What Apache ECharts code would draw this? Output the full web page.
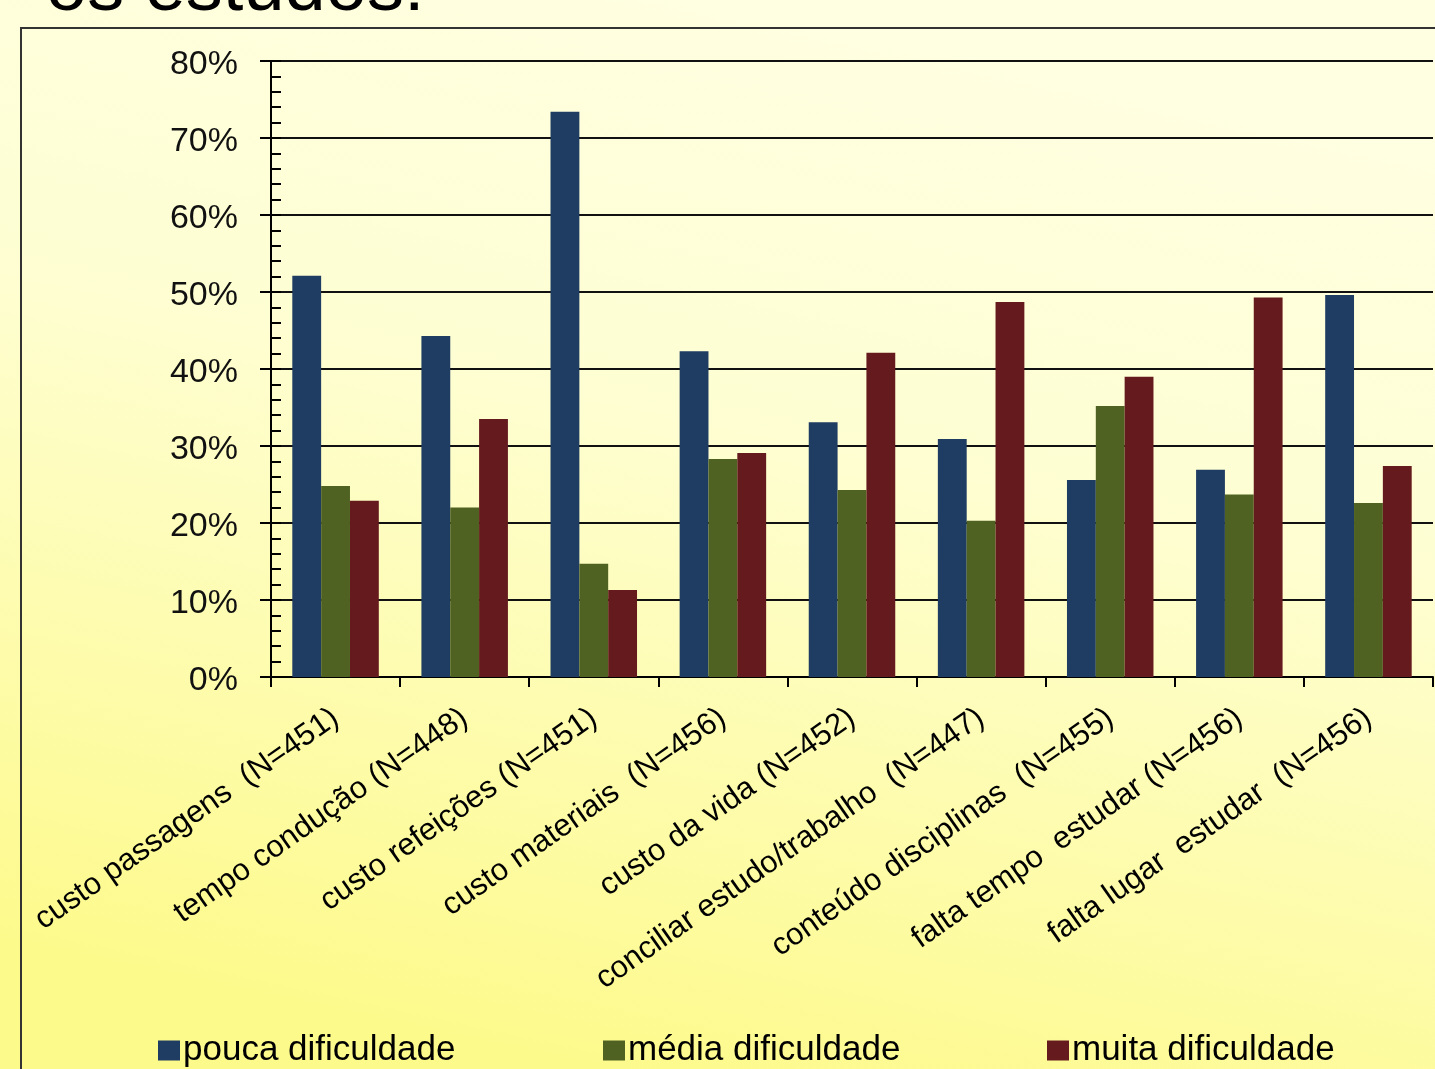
<!DOCTYPE html>
<html>
<head>
<meta charset="utf-8">
<script src="https://cdn.jsdelivr.net/npm/echarts@6/dist/echarts.min.js"></script>
<style>
html,body{margin:0;padding:0;width:1435px;height:1069px;overflow:hidden;}
#chart{width:1435px;height:1069px;}
</style>
</head>
<body>
<div id="chart"></div>
<script>
const categories = [
  'custo passagens  (N=451)',
  'tempo condução (N=448)',
  'custo refeições (N=451)',
  'custo materiais  (N=456)',
  'custo da vida (N=452)',
  'conciliar estudo/trabalho  (N=447)',
  'conteúdo disciplinas  (N=455)',
  'falta tempo  estudar (N=456)',
  'falta lugar  estudar  (N=456)'
];
const seriesNames = ['pouca dificuldade', 'média dificuldade', 'muita dificuldade'];
const pouca = [52.1, 44.3, 73.4, 42.3, 33.1, 30.9, 25.6, 26.9, 49.6];
const media = [24.8, 22.0, 14.7, 28.3, 24.3, 20.3, 35.2, 23.7, 22.6];
const muita = [22.9, 33.5, 11.3, 29.1, 42.1, 48.7, 39.0, 49.3, 27.4];
const colors = ['#1f3c63', '#4f6221', '#651b1d'];
const titleText = 'os estudos:';

const FONT = "'Liberation Sans', Arial, sans-serif";
const chart = echarts.init(document.getElementById('chart'));

const legendLefts = [153, 598, 1042];

chart.setOption({
  animation: false,
  backgroundColor: {
    type: 'linear', x: 0.58, y: 0, x2: 0.42, y2: 1,
    colorStops: [
      {offset: 0, color: '#ffffe2'},
      {offset: 0.4, color: '#fefed2'},
      {offset: 1, color: '#fdfa8c'}
    ]
  },
  color: colors,
  textStyle: {fontFamily: FONT},
  graphic: [
    {
      type: 'rect', silent: true, z: 0,
      shape: {x: 21, y: 28, width: 1500, height: 1100},
      style: {fill: 'transparent', stroke: '#333', lineWidth: 2}
    },
    {
      type: 'text', silent: true, left: 46, top: -47,
      style: {text: titleText, fontSize: 74, fontFamily: FONT, fill: '#000'}
    }
  ],
  legend: seriesNames.map((n, i) => ({
    data: [n],
    left: legendLefts[i],
    top: 1028,
    icon: 'rect',
    itemWidth: 22,
    itemHeight: 20,
    itemGap: 8,
    textStyle: {fontSize: 35, color: '#000', fontFamily: FONT, padding: [0, 0, 0, -2]}
  })),
  grid: {
    left: 271, right: 2, top: 61, bottom: 392,
    containLabel: false,
    outerBoundsMode: 'none'
  },
  xAxis: {
    type: 'category',
    data: categories,
    axisLine: {lineStyle: {color: '#000', width: 2}},
    axisTick: {show: true, length: 10, lineStyle: {color: '#000', width: 2}},
    axisLabel: {
      rotate: 35, fontSize: 31, color: '#000', margin: 38,
      fontFamily: FONT, interval: 0
    },
    splitLine: {show: false}
  },
  yAxis: [
    {
      type: 'value', position: 'left', min: 0, max: 80, interval: 10,
      axisLine: {show: true, lineStyle: {color: '#000', width: 2}},
      axisTick: {show: true, length: 11, lineStyle: {color: '#000', width: 2}},
      axisLabel: {
        formatter: '{a|{value}%}', margin: 33,
        rich: {a: {fontSize: 34, color: '#111', fontFamily: FONT, padding: [7, 0, 0, 0]}}
      },
      splitLine: {show: true, lineStyle: {color: '#111', width: 2}}
    },
    {
      type: 'value', position: 'left', min: 0, max: 80, interval: 2,
      axisLine: {show: false},
      axisTick: {show: true, inside: true, length: 10, lineStyle: {color: '#000', width: 2}},
      axisLabel: {show: false},
      splitLine: {show: false}
    }
  ],
  series: [pouca, media, muita].map((d, i) => ({
    name: seriesNames[i],
    type: 'bar',
    yAxisIndex: 0,
    data: d,
    barGap: '0%',
    barCategoryGap: '33%',
    itemStyle: {color: colors[i]}
  }))
});
</script>
</body>
</html>
